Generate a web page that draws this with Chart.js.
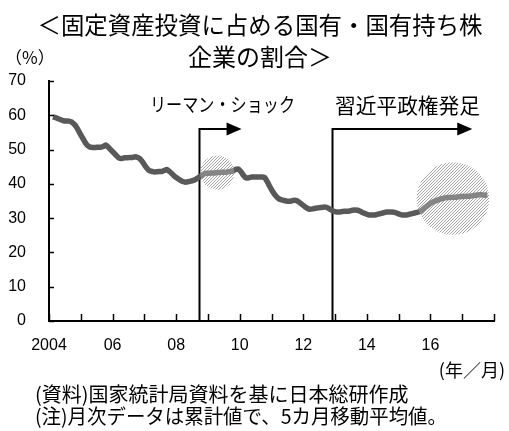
<!DOCTYPE html>
<html>
<head>
<meta charset="utf-8">
<script src="https://cdn.jsdelivr.net/npm/chart.js@4.4.1/dist/chart.umd.min.js"></script>
<style>
  html, body { margin: 0; padding: 0; background: #fff; }
  #wrap { width: 509px; height: 431px; }
</style>
</head>
<body>
<div id="wrap"><canvas id="shareChart" width="509" height="431"></canvas></div>
<script>
// 固定資産投資に占める国有・国有持ち株企業の割合（%、5カ月移動平均）
// 月は2004年1月を0として数える。最初の値は2004年2月。
const firstMonth = 1;
const shareValues = [
  59.5, 59.3, 59.0, 58.7, 58.4, 58.3, 58.3, 58.1, 57.4, 56.4, 55.0,       // 2004/02-12
  53.6, 52.3, 51.2, 50.7, 50.6, 50.6, 50.7, 50.7, 50.9, 51.3, 50.6, 49.8, // 2005
  49.0, 48.2, 47.5, 47.4, 47.6, 47.6, 47.7, 47.7, 47.9, 47.7, 47.2, 46.2, // 2006
  45.0, 44.1, 43.7, 43.5, 43.5, 43.6, 43.6, 43.9, 44.2, 43.6, 42.9, 42.1, // 2007
  41.6, 41.1, 40.7, 40.5, 40.6, 40.8, 41.0, 41.4, 41.9, 42.4, 42.9, 43.1, // 2008
  43.1, 43.2, 43.2, 43.3, 43.3, 43.4, 43.4, 43.5, 43.6, 43.8, 44.2, 44.3, // 2009
  43.5, 42.4, 41.7, 41.8, 42.0, 42.0, 42.0, 42.0, 42.0, 41.8, 40.5, 39.0, // 2010
  37.7, 36.6, 35.8, 35.4, 35.2, 35.0, 34.9, 35.0, 35.2, 35.1, 34.6, 34.0, // 2011
  33.4, 32.9, 32.6, 32.7, 32.9, 33.0, 33.1, 33.2, 33.2, 32.9, 32.4, 32.0, // 2012
  31.8, 31.8, 31.9, 32.0, 32.0, 32.1, 32.3, 32.4, 32.3, 32.0, 31.6, 31.3, // 2013
  31.0, 30.9, 30.9, 31.0, 31.2, 31.4, 31.6, 31.8, 31.8, 31.8, 31.7, 31.4, // 2014
  31.1, 30.9, 30.9, 31.0, 31.2, 31.4, 31.6, 31.8, 32.2, 32.8, 33.4, 34.0, // 2015
  34.5, 34.9, 35.2, 35.5, 35.7, 35.9, 36.0, 36.0, 36.1, 36.1, 36.2, 36.3, // 2016
  36.3, 36.4, 36.4, 36.5, 36.6, 36.7, 36.8, 36.8, 36.7, 36.8              // 2017/01-10
];

const yearLabels = ['2004', '', '06', '', '08', '', '10', '', '12', '', '14', '', '16', '', ''];
const valueTicks = [0, 10, 20, 30, 40, 50, 60, 70];

// 矢印付きの出来事（月の位置と矢印の先端）
const eventNames = ['リーマン・ショック', '習近平政権発足'];
const eventMonths = [56.6, 106.9];
const eventArrowEnds = [72.7, 159.8];

// 斜線の円で示す区間（中心の月、中心の値、半径[%ポイント]）
const spotMonths = [63.5, 152.5];
const spotValues = [43.3, 35.7];
const spotRadii = [5.0, 10.6];

const jpFont = '"Noto Sans CJK JP", sans-serif';
const numFont = '"Liberation Sans", Arial, sans-serif';

const points = shareValues.map((v, k) => ({ x: firstMonth + k + 0.5, y: v }));

function makeHatch(ctx) {
  const c = document.createElement('canvas');
  c.width = 3; c.height = 3;
  const p = c.getContext('2d');
  p.fillStyle = 'rgba(140,140,140,0.8)';
  p.fillRect(0, 2, 1, 1);
  p.fillRect(1, 1, 1, 1);
  p.fillRect(2, 0, 1, 1);
  return ctx.createPattern(c, 'repeat');
}

const decorPlugin = {
  id: 'decor',
  beforeDatasetsDraw(chart) {
    const { ctx, scales: { x, y } } = chart;
    ctx.save();
    ctx.strokeStyle = '#000';
    ctx.fillStyle = '#000';
    ctx.lineWidth = 2;
    const level = y.getPixelForValue(56);
    eventMonths.forEach((m, i) => {
      const px = Math.round(x.getPixelForValue(m)) + 0.5;
      const tip = x.getPixelForValue(eventArrowEnds[i]);
      ctx.beginPath();
      ctx.moveTo(px, y.getPixelForValue(0));
      ctx.lineTo(px, level);
      ctx.lineTo(tip - 14, level);
      ctx.stroke();
      ctx.beginPath();
      ctx.moveTo(tip, level);
      ctx.lineTo(tip - 15, level - 6.5);
      ctx.lineTo(tip - 15, level + 6.5);
      ctx.closePath();
      ctx.fill();
    });
    ctx.restore();
  },
  afterDatasetsDraw(chart) {
    const { ctx, scales: { x, y } } = chart;
    const hatch = makeHatch(ctx);
    ctx.save();
    spotMonths.forEach((m, i) => {
      const cx = x.getPixelForValue(m);
      const cy = y.getPixelForValue(spotValues[i]);
      const r = y.getPixelForValue(0) - y.getPixelForValue(spotRadii[i]);
      ctx.beginPath();
      ctx.arc(cx, cy, r, 0, Math.PI * 2);
      ctx.fillStyle = 'rgba(255,255,255,0.25)';
      ctx.fill();
      ctx.fillStyle = hatch;
      ctx.fill();
    });
    ctx.restore();
  },
  afterDraw(chart) {
    const { ctx, chartArea: area, scales: { x, y } } = chart;
    ctx.save();
    // 内向きの目盛り
    ctx.strokeStyle = '#000';
    ctx.lineWidth = 1.5;
    y.ticks.forEach(t => {
      const py = Math.round(y.getPixelForValue(t.value)) + 0.5;
      ctx.beginPath();
      ctx.moveTo(area.left, py);
      ctx.lineTo(area.left + 5, py);
      ctx.stroke();
    });
    x.ticks.forEach(t => {
      const px = Math.round(x.getPixelForValue(t.value)) + 0.5;
      ctx.beginPath();
      ctx.moveTo(px, area.bottom);
      ctx.lineTo(px, area.bottom - 7);
      ctx.stroke();
    });

    ctx.fillStyle = '#000';
    ctx.textBaseline = 'middle';

    // タイトル
    ctx.textAlign = 'center';
    ctx.font = '24px ' + jpFont;
    ctx.fillText('＜固定資産投資に占める国有・国有持ち株', 260, 25, 445);
    ctx.fillText('企業の割合＞', 260, 57);

    // 出来事のラベル
    ctx.textAlign = 'left';
    ctx.font = '19px ' + jpFont;
    ctx.fillText(eventNames[0], 150, 105, 145);
    ctx.font = '21px ' + jpFont;
    ctx.fillText(eventNames[1], 335, 105, 145);

    // 単位
    ctx.font = '17px ' + jpFont;
    ctx.fillText('（%）', 5, 58);
    ctx.textAlign = 'right';
    ctx.font = '18px ' + jpFont;
    ctx.fillText('(年／月)', 505, 370);

    // 注記
    ctx.textAlign = 'left';
    ctx.font = '20px ' + jpFont;
    ctx.fillText('(資料)国家統計局資料を基に日本総研作成', 35, 394, 382);
    ctx.fillText('(注)月次データは累計値で、5カ月移動平均値。', 35, 416, 412);
    ctx.restore();
  }
};

new Chart(document.getElementById('shareChart'), {
  type: 'line',
  data: {
    datasets: [{
      data: points,
      borderColor: '#595959',
      borderWidth: 5.5,
      pointRadius: 0,
      tension: 0.2,
      fill: false
    }]
  },
  options: {
    responsive: false,
    animation: false,
    devicePixelRatio: 1,
    layout: { padding: { top: 81, right: 7, left: 0, bottom: 0 } },
    plugins: {
      legend: { display: false },
      title: { display: false },
      tooltip: { enabled: false }
    },
    scales: {
      x: {
        type: 'linear',
        min: 0,
        max: 168,
        grid: { display: false, drawTicks: false },
        border: { display: true, color: '#000', width: 2 },
        ticks: {
          stepSize: 12,
          autoSkip: false,
          maxRotation: 0,
          padding: 15,
          color: '#000',
          font: { family: numFont, size: 16 },
          callback: v => yearLabels[v / 12] ?? ''
        },
        afterFit: s => { s.height = 110; }
      },
      y: {
        min: 0,
        max: 70,
        grid: { display: false, drawTicks: false },
        border: { display: true, color: '#000', width: 2 },
        afterBuildTicks: s => { s.ticks = valueTicks.map(v => ({ value: v })); },
        ticks: {
          padding: 23,
          color: '#000',
          font: { family: numFont, size: 16 }
        },
        afterFit: s => { s.width = 49; }
      }
    }
  },
  plugins: [decorPlugin]
});
</script>
</body>
</html>
